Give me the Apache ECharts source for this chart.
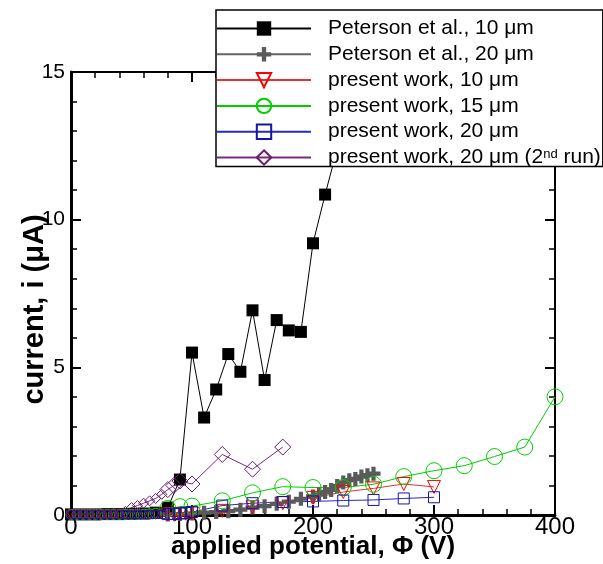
<!DOCTYPE html>
<html>
<head>
<meta charset="utf-8">
<script src="https://cdn.jsdelivr.net/npm/echarts@6/dist/echarts.min.js"></script>
<style>
  html, body { margin: 0; padding: 0; background: #fff; }
  #chart { width: 603px; height: 564px; }
</style>
</head>
<body>
<div id="chart"></div>
<script>
// Measured current vs. applied potential for several tip sizes

const xTicks = [0, 100, 200, 300, 400];
const yTicks = [0, 5, 10, 15];

const seriesNames = [
  'Peterson et al., 10 μm',
  'Peterson et al., 20 μm',
  'present work, 10 μm',
  'present work, 15 μm',
  'present work, 20 μm',
  'present work, 20 μm (2nd run)'
];

// Peterson et al., 10 um
const peterson10V = [0, 10, 20, 30, 40, 50, 60, 70, 80, 90, 100, 110, 120, 130, 140, 150, 160, 170, 180, 190, 200, 210, 220];
const peterson10I = [0.02, 0.02, 0.02, 0.03, 0.03, 0.04, 0.05, 0.08, 0.25, 1.2, 5.5, 3.3, 4.25, 5.45, 4.85, 6.93, 4.57, 6.6, 6.25, 6.2, 9.2, 10.85, 12.4];

// Peterson et al., 20 um
const peterson20V = [80, 90, 100, 110, 120, 130, 140, 150, 160, 170, 180, 190, 200, 205, 210, 215, 220, 225, 230, 235, 240, 245, 250];
const peterson20I = [0.02, 0.03, 0.05, 0.08, 0.1, 0.13, 0.18, 0.25, 0.3, 0.38, 0.45, 0.55, 0.63, 0.7, 0.78, 0.85, 0.98, 1.1, 1.18, 1.22, 1.3, 1.35, 1.4];

// present work, 10 um
const present10V = [0, 5, 10, 15, 20, 25, 30, 35, 40, 45, 50, 55, 60, 65, 70, 75, 80, 85, 90, 95, 100, 125, 150, 175, 200, 225, 250, 275, 300];
const present10I = [0.01, 0.01, 0.01, 0.01, 0.01, 0.01, 0.01, 0.01, 0.01, 0.01, 0.01, 0.01, 0.01, 0.01, 0.01, 0.01, 0.02, 0.02, 0.03, 0.04, 0.05, 0.14, 0.26, 0.4, 0.58, 0.78, 0.9, 1.05, 0.95];

// present work, 15 um
const present15V = [0, 5, 10, 15, 20, 25, 30, 35, 40, 45, 50, 55, 60, 65, 70, 80, 90, 100, 125, 150, 175, 200, 225, 250, 275, 300, 325, 350, 375, 400];
const present15I = [0.02, 0.02, 0.02, 0.02, 0.02, 0.02, 0.02, 0.02, 0.02, 0.02, 0.02, 0.02, 0.03, 0.04, 0.06, 0.22, 0.28, 0.3, 0.48, 0.75, 0.96, 0.93, 0.93, 1.04, 1.3, 1.5, 1.67, 1.98, 2.3, 4.0];

// present work, 20 um
const present20V = [0, 5, 10, 15, 20, 25, 30, 35, 40, 45, 50, 55, 60, 65, 70, 75, 80, 85, 90, 95, 100, 125, 150, 175, 200, 225, 250, 275, 300];
const present20I = [0.01, 0.01, 0.01, 0.01, 0.01, 0.01, 0.01, 0.01, 0.01, 0.01, 0.01, 0.01, 0.01, 0.01, 0.02, 0.02, 0.03, 0.04, 0.05, 0.07, 0.1, 0.32, 0.4, 0.44, 0.46, 0.49, 0.51, 0.56, 0.6];

// present work, 20 um (2nd run)
const rerun20V = [0, 5, 10, 15, 20, 25, 30, 35, 40, 45, 50, 55, 60, 65, 70, 75, 80, 85, 90, 100, 125, 150, 175];
const rerun20I = [0.03, 0.03, 0.03, 0.03, 0.03, 0.03, 0.03, 0.03, 0.04, 0.12, 0.25, 0.32, 0.4, 0.48, 0.56, 0.7, 0.86, 1.0, 1.15, 1.05, 2.05, 1.55, 2.3];

const pairs = (xs, ys) => xs.map((x, i) => [x, ys[i]]);

const FONT = '"Liberation Sans", Arial, Helvetica, sans-serif';
const TRI_DOWN = 'path://M0,0L12,0L6,11Z';
const PLUS = 'path://M3.5,0H6.5V3.5H10V6.5H6.5V10H3.5V6.5H0V3.5H3.5Z';

// markers in the crowded low-voltage band are drawn a little smaller
const sized = (small, big) => (v) => (v[0] < 78 ? small : big);

const chart = echarts.init(document.getElementById('chart'), null, { renderer: 'canvas' });

const axisCommon = {
  type: 'value',
  splitLine: { show: false },
  axisTick: { show: true, inside: true, length: 10, lineStyle: { color: '#000', width: 2 } },
  minorTick: { show: true, splitNumber: 5, length: 6, lineStyle: { color: '#000', width: 1.5 } },
  minorSplitLine: { show: false }
};

const option = {
  animation: false,
  backgroundColor: '#fff',
  grid: { left: 71, right: 48, top: 72, bottom: 49, containLabel: false, outerBoundsMode: 'none' },
  xAxis: [
    Object.assign({}, axisCommon, {
      position: 'bottom',
      min: xTicks[0], max: xTicks[xTicks.length - 1], interval: 100,
      axisLine: { show: true, onZero: false, lineStyle: { color: '#000', width: 3 } },
      axisLabel: { show: true, color: '#000', fontSize: 24, fontFamily: FONT, margin: 0,
        formatter: (v) => (xTicks.includes(v) ? String(v) : '') },
      name: 'applied potential, Φ (V)',
      nameLocation: 'middle',
      nameGap: 19,
      nameMoveOverlap: false,
      nameTextStyle: { color: '#000', fontSize: 26, fontWeight: 'bold', fontFamily: FONT }
    }),
    Object.assign({}, axisCommon, {
      position: 'top',
      min: xTicks[0], max: xTicks[xTicks.length - 1], interval: 100,
      axisLine: { show: true, onZero: false, lineStyle: { color: '#000', width: 2 } },
      axisLabel: { show: false }
    })
  ],
  yAxis: [
    Object.assign({}, axisCommon, {
      position: 'left',
      min: yTicks[0], max: yTicks[yTicks.length - 1], interval: 5,
      axisLine: { show: true, onZero: false, lineStyle: { color: '#000', width: 3 } },
      axisLabel: { show: true, color: '#000', fontSize: 21, fontFamily: FONT, margin: 6,
        formatter: (v) => (yTicks.includes(v) ? String(v) : '') },
      name: 'current, i (μA)',
      nameLocation: 'middle',
      nameGap: 22,
      nameMoveOverlap: false,
      nameTextStyle: { color: '#000', fontSize: 29, fontWeight: 'bold', fontFamily: FONT, padding: [0, 32, 0, 0] }
    }),
    Object.assign({}, axisCommon, {
      position: 'right',
      min: yTicks[0], max: yTicks[yTicks.length - 1], interval: 5,
      axisLine: { show: true, onZero: false, lineStyle: { color: '#000', width: 2 } },
      axisLabel: { show: false }
    })
  ],
  legend: {
    orient: 'vertical',
    left: 216,
    top: 10,
    itemWidth: 94,
    itemHeight: 18,
    itemGap: 4.8,
    padding: [8, 2, -4, 0],
    backgroundColor: '#fff',
    borderColor: '#000',
    borderWidth: 1.5,
    borderRadius: 0,
    data: seriesNames,
    formatter: (n) => (n === seriesNames[5] ? 'present work, 20 μm (2{sup|nd} run)' : n),
    textStyle: {
      color: '#000', fontSize: 21, fontFamily: FONT, lineHeight: 20,
      padding: [0, 0, 0, 12],
      rich: {
        sup: { fontSize: 13, color: '#000', fontFamily: FONT, verticalAlign: 'top', lineHeight: 12, padding: [0, 0, 10, 0] }
      }
    }
  },
  series: [
    {
      name: seriesNames[0], type: 'line',
      data: pairs(peterson10V, peterson10I),
      symbol: 'rect', symbolSize: 12,
      itemStyle: { color: '#000' },
      lineStyle: { color: '#000', width: 1 }
    },
    {
      name: seriesNames[1], type: 'line',
      data: pairs(peterson20V, peterson20I),
      symbol: PLUS, symbolSize: 14,
      itemStyle: { color: '#5a5a5a' },
      lineStyle: { color: '#666', width: 1 }
    },
    {
      name: seriesNames[2], type: 'line',
      data: pairs(present10V, present10I),
      symbol: TRI_DOWN, symbolSize: sized(9, 13),
      itemStyle: { color: 'transparent', borderColor: '#ff0000', borderWidth: 1 },
      lineStyle: { color: '#e83030', width: 1 }
    },
    {
      name: seriesNames[3], type: 'line',
      data: pairs(present15V, present15I),
      symbol: 'circle', symbolSize: sized(10, 16),
      itemStyle: { color: 'transparent', borderColor: '#00d000', borderWidth: 1 },
      lineStyle: { color: '#00cc00', width: 1 }
    },
    {
      name: seriesNames[4], type: 'line',
      data: pairs(present20V, present20I),
      symbol: 'rect', symbolSize: sized(8, 11),
      itemStyle: { color: 'transparent', borderColor: '#1414a8', borderWidth: 1 },
      lineStyle: { color: '#2a2ab0', width: 1 }
    },
    {
      name: seriesNames[5], type: 'line',
      data: pairs(rerun20V, rerun20I),
      symbol: 'diamond', symbolSize: sized(10, 16),
      itemStyle: { color: 'transparent', borderColor: '#6e1a6e', borderWidth: 1 },
      lineStyle: { color: '#7a2a7a', width: 1 }
    }
  ]
};

chart.setOption(option);
</script>
</body>
</html>
